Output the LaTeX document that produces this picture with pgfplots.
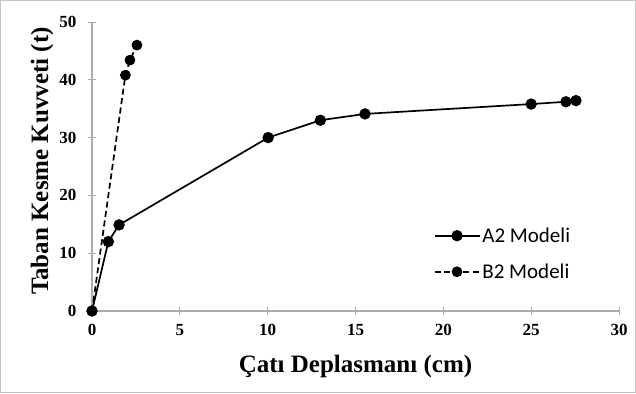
\documentclass[border=0pt]{standalone}
\usepackage{pgfplots}
\pgfplotsset{compat=1.18}
\usepackage{fontspec}
\setmainfont{Liberation Serif}
\newfontfamily\legfont{Carlito}
\begin{document}
\begin{tikzpicture}[x=1pt,y=1pt]
\draw[gray!45, line width=1.2pt] (0.6,0.6) rectangle (635.4,392.4);
\begin{axis}[
  at={(92pt,82pt)}, anchor=south west,
  scale only axis, width=527pt, height=289pt,
  xmin=0, xmax=30, ymin=0, ymax=50,
  axis lines=left,
  axis line style={gray!65, line width=1.2pt, -},
  every tick/.style={gray!65, line width=1pt},
  xtick={0,5,...,30}, ytick={0,10,...,50},
  tick align=center, major tick length=8pt,
  clip=false,
  /pgf/number format/assume math mode=true,
  ticklabel style={font=\fontsize{17}{17}\selectfont\bfseries},
  xticklabel style={yshift=-6pt},
  yticklabel style={xshift=-8pt},
  xlabel={Çatı Deplasmanı (cm)},
  ylabel={Taban Kesme Kuvveti (t)},
  label style={font=\fontsize{25}{25}\selectfont\bfseries},
  xlabel style={at={(axis description cs:0.5,0)}, anchor=base, yshift=-61pt},
  ylabel style={at={(axis description cs:-0.0949,0.519)}, anchor=center},
  legend cell align=left,
  legend style={draw=none, fill=none, at={(0.648,0.296)}, anchor=north west,
    font=\legfont\fontsize{21}{21}\selectfont, row sep=16pt, inner sep=0pt},
  legend image code/.code={\draw[mark repeat=2,mark phase=2,#1] plot coordinates {(0pt,0pt) (22.5pt,0pt) (45pt,0pt)};},
]
\addplot[black, line width=1.7pt, mark=*, mark size=4.8pt] coordinates {
(0,0) (0.93,12.0) (1.54,14.9) (10.03,30.0) (13.0,33.0) (15.54,34.1) (25.0,35.8) (26.98,36.2) (27.55,36.4)};
\addlegendentry{A2 Modeli}
\addplot[black, line width=1.7pt, dash pattern=on 6pt off 3.5pt, mark=*, mark size=4.5pt, mark options={solid}] coordinates {
(0,0) (1.9,40.8) (2.16,43.4) (2.56,46.0)};
\addlegendentry{B2 Modeli}
\end{axis}
\end{tikzpicture}
\end{document}
